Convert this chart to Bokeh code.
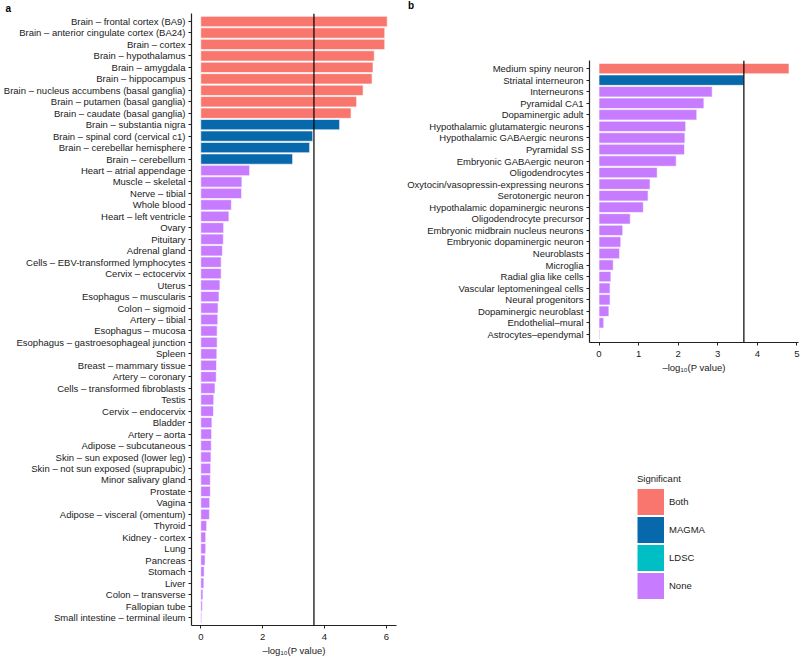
from bokeh.plotting import figure
from bokeh.models import FactorRange, Range1d, FixedTicker, Span, Legend, LegendItem, Title, ColumnDataSource, Div
from bokeh.layouts import row, column
from bokeh.embed import file_html
from bokeh.resources import INLINE

# ---------------- data ----------------
TISSUES = [
    "Brain – frontal cortex (BA9)", "Brain – anterior cingulate cortex (BA24)", "Brain – cortex",
    "Brain – hypothalamus", "Brain – amygdala", "Brain – hippocampus",
    "Brain – nucleus accumbens (basal ganglia)", "Brain – putamen (basal ganglia)",
    "Brain – caudate (basal ganglia)", "Brain – substantia nigra", "Brain – spinal cord (cervical c1)",
    "Brain – cerebellar hemisphere", "Brain – cerebellum", "Heart – atrial appendage",
    "Muscle – skeletal", "Nerve – tibial", "Whole blood", "Heart – left ventricle", "Ovary",
    "Pituitary", "Adrenal gland", "Cells – EBV-transformed lymphocytes", "Cervix – ectocervix",
    "Uterus", "Esophagus – muscularis", "Colon – sigmoid", "Artery – tibial", "Esophagus – mucosa",
    "Esophagus – gastroesophageal junction", "Spleen", "Breast – mammary tissue", "Artery – coronary",
    "Cells – transformed fibroblasts", "Testis", "Cervix – endocervix", "Bladder", "Artery – aorta",
    "Adipose – subcutaneous", "Skin – sun exposed (lower leg)", "Skin – not sun exposed (suprapubic)",
    "Minor salivary gland", "Prostate", "Vagina", "Adipose – visceral (omentum)", "Thyroid",
    "Kidney - cortex", "Lung", "Pancreas", "Stomach", "Liver", "Colon – transverse",
    "Fallopian tube", "Small intestine – terminal ileum",
]
TISSUE_P = [
    6.03, 5.95, 5.95, 5.61, 5.57, 5.54, 5.25, 5.04, 4.86, 4.49, 3.62, 3.52, 2.97, 1.58,
    1.33, 1.32, 0.99, 0.91, 0.74, 0.73, 0.70, 0.66, 0.66, 0.62, 0.59, 0.56, 0.55, 0.53,
    0.53, 0.52, 0.51, 0.50, 0.46, 0.42, 0.41, 0.36, 0.35, 0.34, 0.33, 0.32, 0.31, 0.31,
    0.29, 0.28, 0.19, 0.16, 0.16, 0.14, 0.11, 0.10, 0.07, 0.05, 0.03,
]
TISSUE_SIG = ["Both"] * 9 + ["MAGMA"] * 4 + ["None"] * 40

CELLS = [
    "Medium spiny neuron", "Striatal interneuron", "Interneurons", "Pyramidal CA1",
    "Dopaminergic adult", "Hypothalamic glutamatergic neurons", "Hypothalamic GABAergic neurons",
    "Pyramidal SS", "Embryonic GABAergic neuron", "Oligodendrocytes",
    "Oxytocin/vasopressin-expressing neurons", "Serotonergic neuron",
    "Hypothalamic dopaminergic neurons", "Oligodendrocyte precursor",
    "Embryonic midbrain nucleus neurons", "Embryonic dopaminergic neuron", "Neuroblasts",
    "Microglia", "Radial glia like cells", "Vascular leptomeningeal cells", "Neural progenitors",
    "Dopaminergic neuroblast", "Endothelial–mural", "Astrocytes–ependymal",
]
CELL_P = [
    4.80, 3.66, 2.86, 2.65, 2.47, 2.19, 2.17, 2.16, 1.95, 1.47, 1.29, 1.24,
    1.12, 0.79, 0.60, 0.55, 0.52, 0.36, 0.30, 0.28, 0.28, 0.25, 0.12, 0.02,
]
CELL_SIG = ["Both", "MAGMA"] + ["None"] * 22

GROUPS = ["Both", "MAGMA", "LDSC", "None"]
COLORS = ["#F8766D", "#0868AC", "#00BFC4", "#C77CFF"]
THRESHOLD = 3.66
XTICKS_A = [0, 2, 4, 6]
XTICKS_B = [0, 1, 2, 3, 4, 5]
X_LABEL = "–log₁₀(P value)"
LEGEND_TITLE = "Significant"
PANEL_A, PANEL_B = "a", "b"

FONT = "Liberation Sans"
FS = "9.5px"
TXT = "#1a1a1a"


def make_panel(cats, vals, sig, xr, xticks, width, height, mb):
    p = figure(
        width=width, height=height, output_backend="svg", toolbar_location=None,
        y_range=FactorRange(*reversed(cats), range_padding=0.2, range_padding_units="absolute"),
        x_range=Range1d(*xr),
        min_border_left=mb[0], min_border_right=mb[1], min_border_top=mb[2], min_border_bottom=mb[3],
    )
    p.outline_line_color = None
    p.xgrid.visible = False
    p.ygrid.visible = False
    rends = {}
    for g, c in zip(GROUPS, COLORS):
        idx = [i for i, s in enumerate(sig) if s == g]
        src = ColumnDataSource(dict(y=[cats[i] for i in idx], v=[vals[i] for i in idx]))
        rends[g] = p.hbar(y="y", left=0, right="v", height=0.9, source=src,
                          fill_color=c, line_color="white", line_width=0.6)
    p.add_layout(Span(location=THRESHOLD, dimension="height", line_color="black", line_width=1.2))
    for ax in (p.xaxis[0], p.yaxis[0]):
        ax.axis_line_color = "#222222"
        ax.axis_line_width = 1.2
        ax.major_tick_line_color = "#222222"
        ax.major_tick_in = 0
        ax.major_tick_out = 3
        ax.minor_tick_line_color = None
        ax.major_label_text_font = FONT
        ax.major_label_text_font_size = FS
        ax.major_label_text_color = TXT
    p.yaxis.major_label_standoff = 3
    p.xaxis.major_label_standoff = 5
    p.xaxis.ticker = FixedTicker(ticks=xticks)
    p.xaxis.axis_label = X_LABEL
    p.xaxis.axis_label_text_font = FONT
    p.xaxis.axis_label_text_font_size = FS
    p.xaxis.axis_label_text_font_style = "normal"
    p.xaxis.axis_label_text_color = TXT
    p.xaxis.axis_label_standoff = 2
    return p, rends


# ---- panel a ----
pa, ra = make_panel(TISSUES, TISSUE_P, TISSUE_SIG, (-0.30, 6.33), XTICKS_A, 400, 658, (187, 4, 0, 30))
pa.title = Title(text=PANEL_A, align="left", offset=-186, standoff=0,
                 text_font=FONT, text_font_size="10px", text_font_style="bold", text_color="black")

# ---- panel b ----
tag_b = Div(text=PANEL_B, width=400, height=14, margin=0,
            styles={"font-family": FONT, "font-size": "10px", "font-weight": "bold",
                    "line-height": "12px", "padding-left": "8px", "color": "black"})
pb, rb = make_panel(CELLS, CELL_P, CELL_SIG, (-0.24, 5.04), XTICKS_B, 400, 361, (189, 2, 46, 30))

# legend figure: one single-point (invisible) proxy line per significance group carries the swatch
lf = figure(width=400, height=283, output_backend="svg", toolbar_location=None,
            x_axis_location=None, y_axis_location=None,
            y_range=FactorRange(*GROUPS), x_range=Range1d(0, 1),
            min_border_left=189, min_border_right=2, min_border_top=0, min_border_bottom=0)
lf.outline_line_color = None
lf.grid.visible = False
lrs = {}
for g, c in zip(GROUPS, COLORS):
    lrs[g] = lf.line(x=[0], y=[g], line_color=c, line_width=26, line_cap="butt")

legend = Legend(
    items=[LegendItem(label=g, renderers=[lrs[g]]) for g in GROUPS],
    title=LEGEND_TITLE, location=(48, 59),
    title_text_font=FONT, title_text_font_size=FS, title_text_font_style="normal", title_text_color=TXT,
    label_text_font=FONT, label_text_font_size=FS, label_text_color=TXT,
    glyph_width=27, glyph_height=27, spacing=1, padding=0, margin=0, label_standoff=5,
    title_standoff=4, border_line_color=None, background_fill_alpha=0,
)
lf.add_layout(legend)

layout = row(column(pa), column(tag_b, pb, lf))
open("out.html", "w").write(file_html(layout, INLINE))
